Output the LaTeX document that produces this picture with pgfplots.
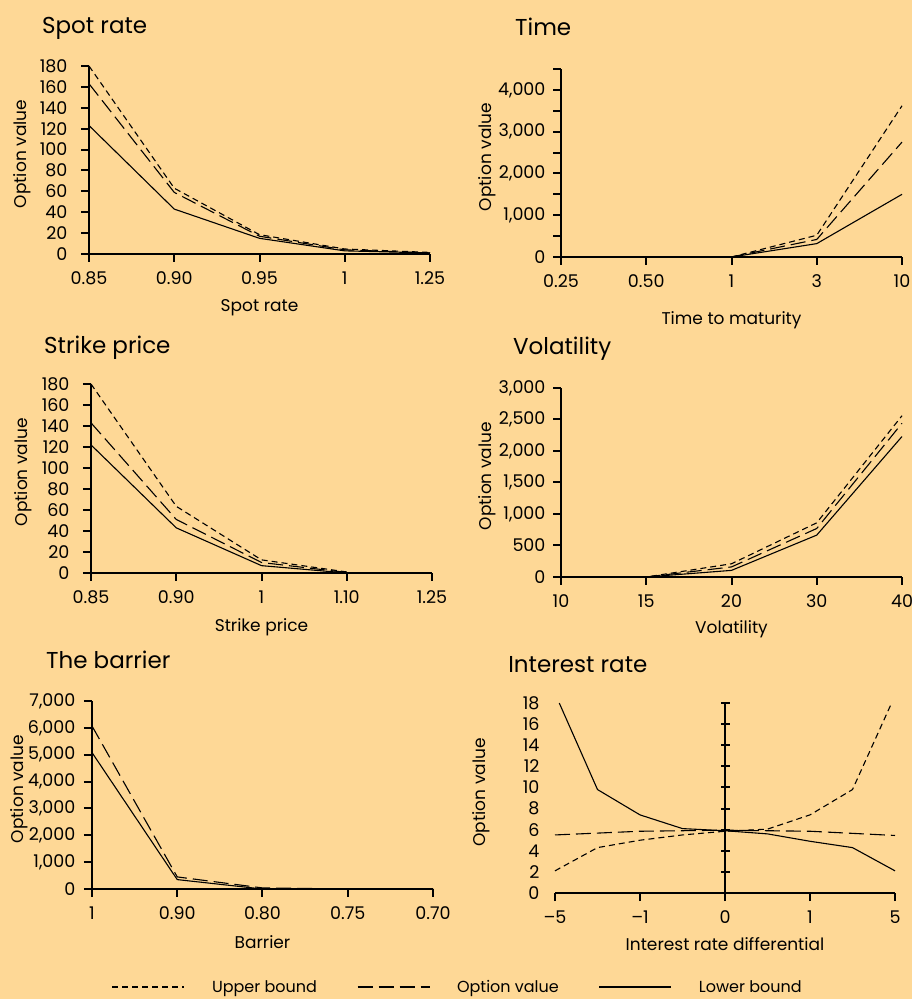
\documentclass[border=0pt]{standalone}
\usepackage{fontspec}
\setmainfont{Poppins}
\usepackage{pgfplots}
\pgfplotsset{compat=1.18}
\definecolor{bg}{RGB}{254,216,150}
\pgfplotsset{
  panel/.style={
    scale only axis, width=341pt, height=188pt,
    axis lines=left, axis line style={-, line width=2pt, black},
    enlargelimits=false,
    xmin=0, xmax=4, xtick={0,1,2,3,4}, ymin=0,
    tick align=outside, major tick length=8pt, minor tick length=8pt,
    tick style={line width=2pt, black},
    /pgf/number format/assume math mode=true,
    scaled y ticks=false,
    ticklabel style={font=\fontsize{17.5}{20}\selectfont},
    xticklabel style={yshift=-6pt},
    label style={font=\fontsize{17}{20}\selectfont},
    title style={font=\fontsize{23}{27}\selectfont, anchor=base west, inner sep=0pt, yshift=-7pt},
    ylabel={Option value},
    clip=false,
  },
  ub/.style={black, line width=1.1pt, dash pattern=on 6pt off 4pt},
  ov/.style={black, line width=1.1pt, dash pattern=on 15pt off 6pt},
  lb/.style={black, line width=1.1pt},
}
\begin{document}
\begin{tikzpicture}
\path[use as bounding box] (0,0) rectangle (912pt,999pt);
\fill[bg] (0,0) rectangle (912pt,999pt);

% Panel 1: Spot rate
\begin{axis}[panel, at={(89pt,745pt)}, anchor=south west,
  ymax=180, ytick={0,20,...,180},
  xticklabels={0.85,0.90,0.95,1,1.25},
  yticklabel style={xshift=-10pt},
  title={Spot rate}, title style={at={(axis description cs:-0.138,1.176)}},
  xlabel={Spot rate}, xlabel style={at={(axis description cs:0.5,-0.287)}, anchor=center},
  ylabel style={at={(axis description cs:-0.195,0.532)}, anchor=center}]
\addplot[ub] coordinates {(0,180)(1,63)(2,18.5)(3,4.8)(4,1.5)};
\addplot[ov] coordinates {(0,163)(1,59)(2,17)(3,4)(4,1)};
\addplot[lb] coordinates {(0,123)(1,43)(2,15)(3,3)(4,1)};
\end{axis}

% Panel 2: Time
\begin{axis}[panel, at={(561pt,742pt)}, anchor=south west,
  ymax=4500, ytick={0,1000,...,4000}, minor ytick={500,1500,2500,3500,4500},
  xticklabels={0.25,0.50,1,3,10},
  yticklabel style={xshift=-4pt},
  title={Time}, title style={at={(axis description cs:-0.135,1.186)}},
  xlabel={Time to maturity}, xlabel style={at={(axis description cs:0.5,-0.334)}, anchor=center},
  ylabel style={at={(axis description cs:-0.216,0.532)}, anchor=center}]
\addplot[ub] coordinates {(0,0)(1,0)(2,0)(3,520)(4,3620)};
\addplot[ov] coordinates {(0,0)(1,0)(2,0)(3,420)(4,2750)};
\addplot[lb] coordinates {(0,0)(1,0)(2,0)(3,320)(4,1500)};
\end{axis}

% Panel 3: Strike price
\begin{axis}[panel, at={(91pt,426pt)}, anchor=south west, height=189pt,
  ymax=180, ytick={0,20,...,180},
  xticklabels={0.85,0.90,1,1.10,1.25},
  yticklabel style={xshift=-10pt},
  title={Strike price}, title style={at={(axis description cs:-0.138,1.169)}},
  xlabel={Strike price}, xlabel style={at={(axis description cs:0.5,-0.287)}, anchor=center},
  ylabel style={at={(axis description cs:-0.2,0.534)}, anchor=center}]
\addplot[ub] coordinates {(0,180)(1,63.5)(2,12.5)(3,1)};
\addplot[ov] coordinates {(0,143)(1,51)(2,10)(3,0.5)};
\addplot[lb] coordinates {(0,122)(1,43)(2,7)(3,0)};
\end{axis}

% Panel 4: Volatility
\begin{axis}[panel, at={(561pt,422pt)}, anchor=south west, height=189pt,
  ymax=3000, ytick={0,500,...,3000},
  xticklabels={10,15,20,30,40},
  yticklabel style={xshift=-4pt},
  title={Volatility}, title style={at={(axis description cs:-0.141,1.185)}},
  xlabel={Volatility}, xlabel style={at={(axis description cs:0.5,-0.277)}, anchor=center},
  ylabel style={at={(axis description cs:-0.216,0.534)}, anchor=center}]
\addplot[ub] coordinates {(0,0)(1,0)(2,210)(3,860)(4,2560)};
\addplot[ov] coordinates {(0,0)(1,0)(2,160)(3,770)(4,2440)};
\addplot[lb] coordinates {(0,0)(1,0)(2,105)(3,665)(4,2230)};
\end{axis}

% Panel 5: The barrier
\begin{axis}[panel, at={(92pt,110pt)}, anchor=south west,
  ymax=7000, ytick={0,1000,...,7000},
  xticklabels={1,0.90,0.80,0.75,0.70},
  yticklabel style={xshift=-5pt},
  title={The barrier}, title style={at={(axis description cs:-0.135,1.176)}},
  xlabel={Barrier}, xlabel style={at={(axis description cs:0.5,-0.283)}, anchor=center},
  ylabel style={at={(axis description cs:-0.214,0.532)}, anchor=center}]
\addplot[ov] coordinates {(0,6070)(1,450)(2,40)(3,0)(4,0)};
\addplot[lb] coordinates {(0,5080)(1,350)(2,0)(3,0)(4,0)};
\end{axis}

% Panel 6: Interest rate
\begin{axis}[panel, at={(555pt,106pt)}, anchor=south west, width=340pt, height=190pt,
  ymax=18, ytick={0,2,...,18},
  xticklabels={–5,–1,0,1,5},
  y axis line style={draw=none}, ytick style={draw=none},
  yticklabel style={xshift=-4pt},
  title={Interest rate}, title style={at={(axis description cs:-0.138,1.168)}},
  xlabel={Interest rate differential}, xlabel style={at={(axis description cs:0.5,-0.27)}, anchor=center},
  ylabel style={at={(axis description cs:-0.216,0.53)}, anchor=center}]
\addplot[ub] coordinates {(0,2.1)(0.5,4.3)(1,5.0)(1.5,5.5)(2,5.85)(2.5,6.05)(3,7.4)(3.5,9.8)(3.96,18)};
\addplot[ov] coordinates {(0,5.5)(1,5.85)(2,5.95)(3,5.85)(4,5.45)};
\addplot[lb] coordinates {(0.05,18)(0.5,9.8)(1,7.4)(1.5,6.1)(2,5.9)(2.5,5.6)(3,4.9)(3.5,4.3)(4,2.1)};
\addplot[black, line width=2pt] coordinates {(2,0)(2,18)};
\addplot[black, only marks, mark=-, mark size=4.5pt, mark options={line width=2pt}]
  coordinates {(2,2)(2,4)(2,6)(2,8)(2,10)(2,12)(2,14)(2,16)(2,18)};
\end{axis}

% Legend
\begin{axis}[at={(0pt,0pt)}, anchor=south west, scale only axis, width=912pt, height=24pt,
  hide axis, xmin=0, xmax=1, ymin=0, ymax=1,
  legend columns=3,
  legend image code/.code={\draw[#1] (0pt,0pt) -- (72pt,0pt);},
  legend style={at={(0.502,0.5)}, anchor=center, draw=none, fill=none,
    font=\fontsize{16}{19}\selectfont,
    /tikz/every odd column/.append style={column sep=25pt},
    /tikz/every even column/.append style={column sep=38pt}}]
\addlegendimage{ub}\addlegendentry{Upper bound}
\addlegendimage{ov}\addlegendentry{Option value}
\addlegendimage{lb}\addlegendentry{Lower bound}
\end{axis}
\end{tikzpicture}
\end{document}
